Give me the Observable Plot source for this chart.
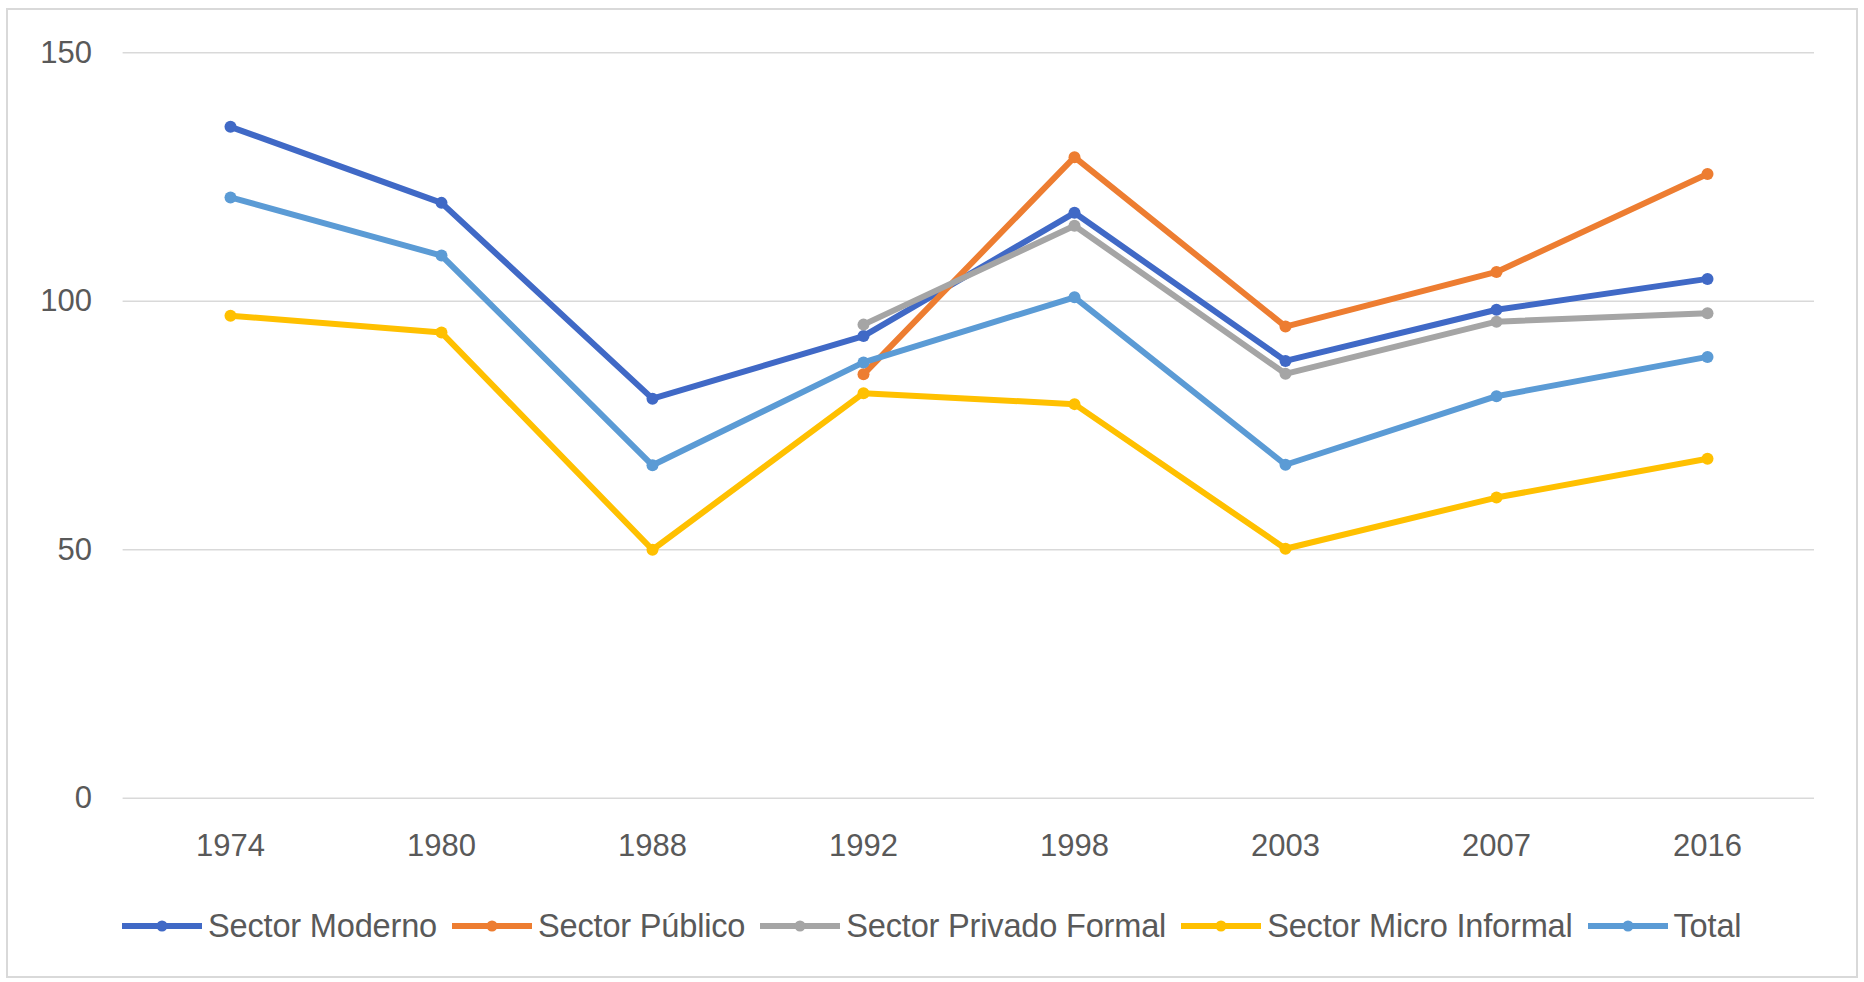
<!DOCTYPE html>
<html>
<head>
<meta charset="utf-8">
<script src="https://cdn.jsdelivr.net/npm/d3@7"></script>
<script src="https://cdn.jsdelivr.net/npm/@observablehq/plot@0.6"></script>
<style>
  html, body { margin: 0; padding: 0; background: #fff; }
  body { width: 1864px; height: 982px; position: relative; overflow: hidden; font-family: "Liberation Sans", Arial, sans-serif; }
  #frame { position: absolute; left: 6px; top: 8px; width: 1848px; height: 966px; border: 2px solid #d9d9d9; box-sizing: content-box; }
  #chart { position: absolute; left: 0; top: 0; }
  #legend { position: absolute; left: 122px; top: 906px; height: 40px; display: flex; align-items: center; color: #595959; font-size: 32.6px; letter-spacing: -0.2px; white-space: nowrap; }
  .item { display: flex; align-items: center; margin-right: 15px; }
  .item svg { margin-right: 6px; }
</style>
</head>
<body>
<div id="frame"></div>
<div id="chart"></div>
<div id="legend"></div>
<script>
const years = ["1974", "1980", "1988", "1992", "1998", "2003", "2007", "2016"];
const seriesNames = ["Sector Moderno", "Sector Público", "Sector Privado Formal", "Sector Micro Informal", "Total"];
const seriesColors = ["#4069c6", "#ed7d31", "#a5a5a5", "#ffc000", "#5b9bd5"];
const moderno = [135.1, 119.8, 80.4, 93.0, 117.8, 88.0, 98.3, 104.5];
const publico = [null, null, null, 85.3, 129.0, 94.9, 105.9, 125.6];
const privado = [null, null, null, 95.3, 115.2, 85.4, 95.9, 97.6];
const micro = [97.1, 93.7, 50.0, 81.5, 79.3, 50.2, 60.5, 68.3];
const total = [120.9, 109.2, 67.0, 87.7, 100.8, 67.1, 80.9, 88.8];
const yTicks = [0, 50, 100, 150];

const seriesValues = [moderno, publico, privado, micro, total];
const data = [];
seriesNames.forEach((name, i) => {
  seriesValues[i].forEach((v, j) => {
    if (v != null) data.push({series: name, year: years[j], value: v});
  });
});

const chart = Plot.plot({
  width: 1864,
  height: 870,
  marginLeft: 122.6,
  marginRight: 50,
  marginTop: 52.3,
  marginBottom: 72.3,
  style: {fontFamily: "Liberation Sans, Arial, sans-serif", color: "#595959", background: "transparent"},
  x: {type: "point", domain: years, padding: 0.5},
  y: {domain: [0, 150]},
  color: {domain: seriesNames, range: seriesColors},
  marks: [
    Plot.gridY(yTicks, {stroke: "#d9d9d9", strokeOpacity: 1, strokeWidth: 1.5}),
    Plot.axisY(yTicks, {tickSize: 0, tickPadding: 31, fontSize: 31, fill: "#595959", label: null}),
    Plot.axisX({tickSize: 0, tickPadding: 36, fontSize: 31, fill: "#595959", label: null}),
    Plot.line(data, {x: "year", y: "value", z: "series", stroke: "series", strokeWidth: 6, strokeLinejoin: "round"}),
    Plot.dot(data, {x: "year", y: "value", fill: "series", r: 6})
  ]
});
document.getElementById("chart").appendChild(chart);

const legend = document.getElementById("legend");
seriesNames.forEach((name, i) => {
  const item = document.createElement("div");
  item.className = "item";
  item.innerHTML = `<svg width="80" height="14"><line x1="0" y1="7" x2="80" y2="7" stroke="${seriesColors[i]}" stroke-width="6" stroke-linecap="round"/><circle cx="40" cy="7" r="5.5" fill="${seriesColors[i]}"/></svg><span>${name}</span>`;
  legend.appendChild(item);
});
</script>
</body>
</html>
